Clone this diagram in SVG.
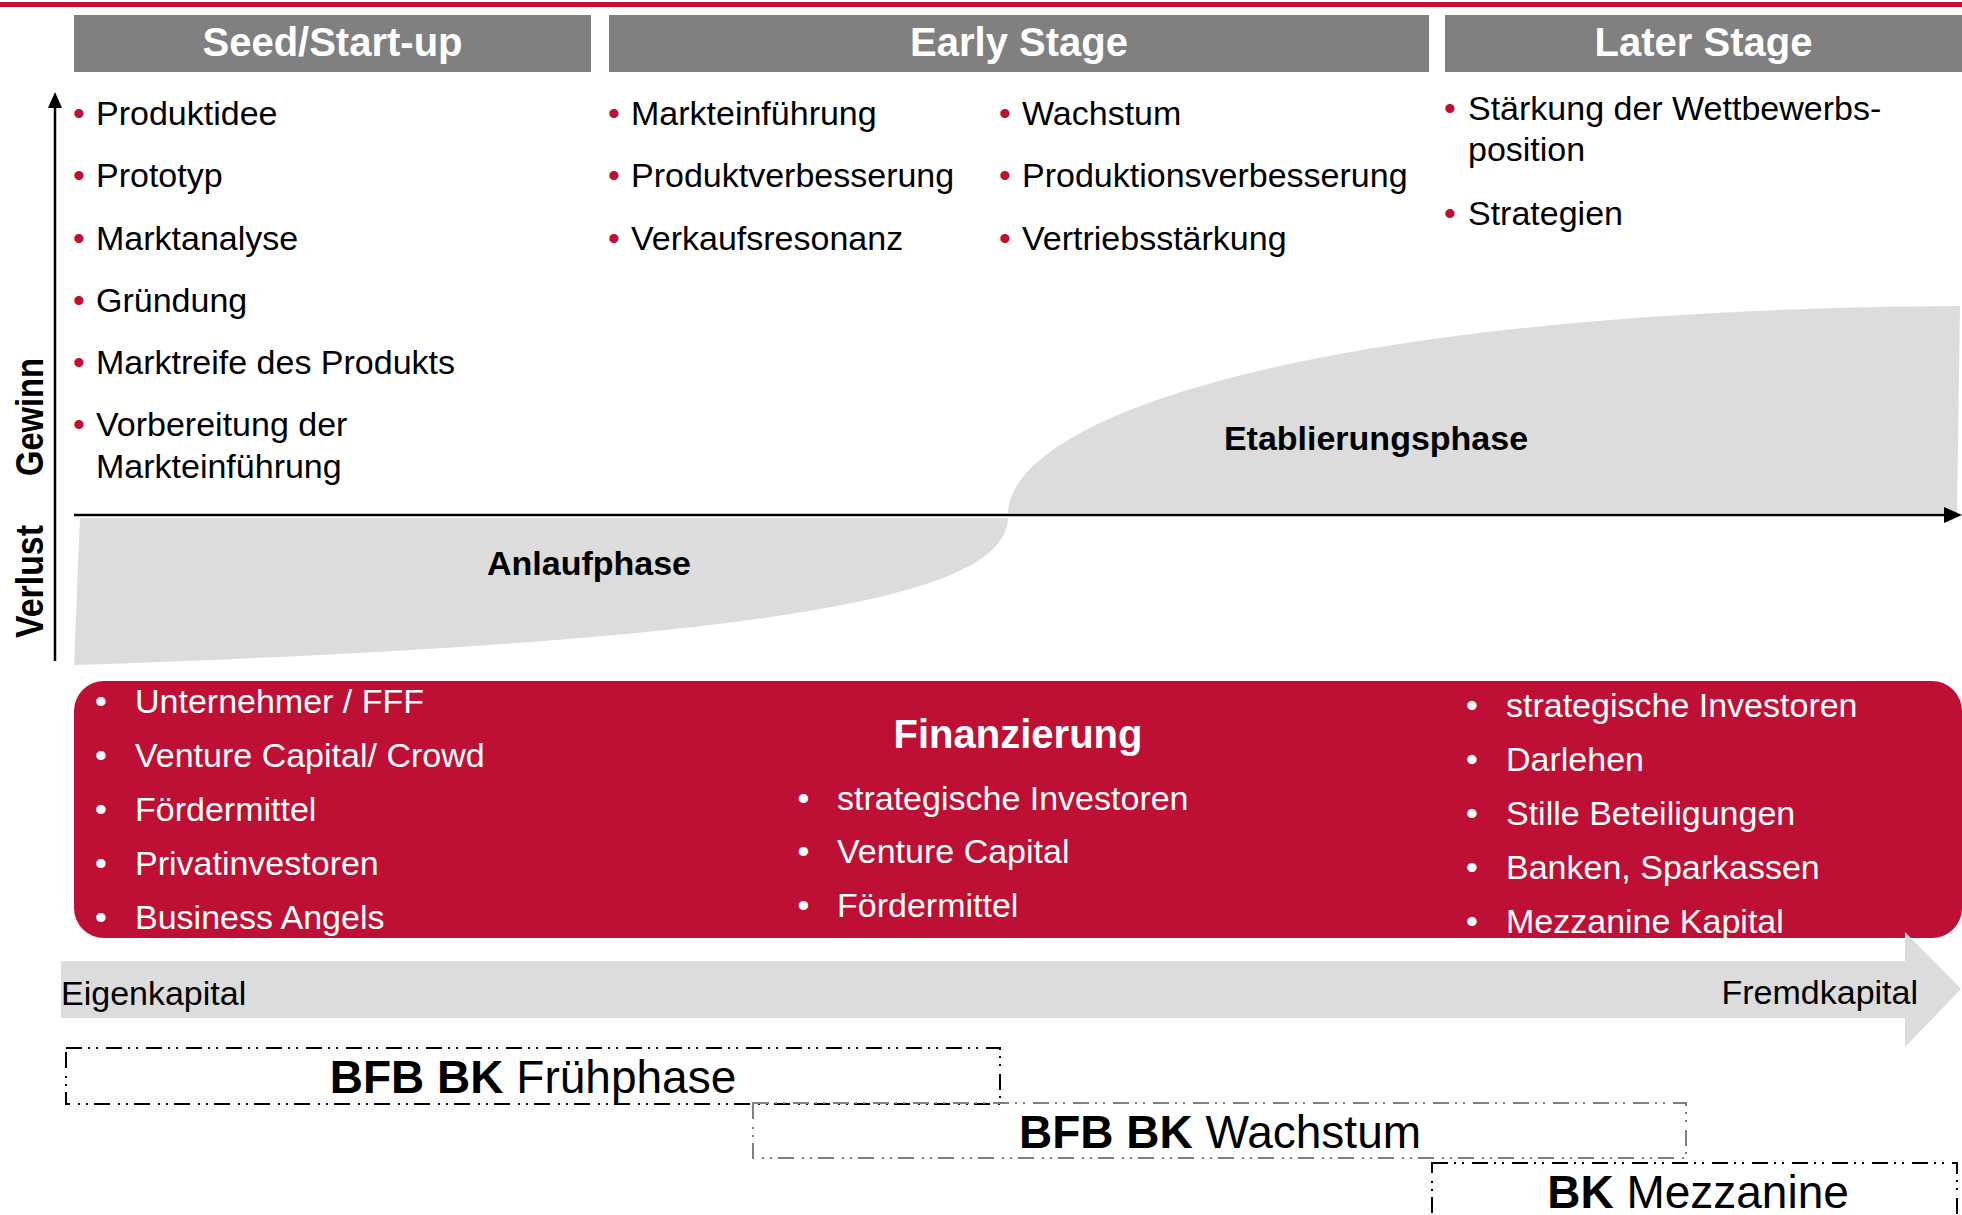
<svg xmlns="http://www.w3.org/2000/svg" width="1962" height="1215" viewBox="0 0 1962 1215">
<defs>
<style>
text{font-family:"Liberation Sans",Arial,sans-serif;}
.hdr{fill:#808080;}
.hdrt{fill:#fff;font-size:40px;font-weight:bold;text-anchor:middle;}
.item{font-size:34px;fill:#000;}
.rb{font-size:34px;fill:#BE1035;}
.wb{font-size:34px;fill:#fff;}
.wt{font-size:34px;fill:#fff;}
.phase{font-size:34px;font-weight:bold;fill:#000;text-anchor:middle;}
.axlbl{font-size:38px;font-weight:bold;fill:#000;text-anchor:middle;}
.shape{fill:#DCDCDC;}
.ax{stroke:#000;stroke-width:2.5;fill:none;}
.dash{fill:none;stroke-width:2;stroke-dasharray:16 6 2 6 2 8;}
.prog{font-size:46px;fill:#000;text-anchor:middle;}
.b{font-weight:bold;}
</style>
</defs>
<rect x="0" y="0" width="1962" height="1215" fill="#fff"/>
<rect id="topline" x="0" y="2" width="1962" height="5" fill="#BE1035"/>

<g id="hdr-seed"><rect class="hdr" x="74" y="15" width="517" height="57"/><text class="hdrt" x="332.5" y="56">Seed/Start-up</text></g>
<g id="hdr-early"><rect class="hdr" x="609" y="15" width="820" height="57"/><text class="hdrt" x="1019" y="56">Early Stage</text></g>
<g id="hdr-later"><rect class="hdr" x="1445" y="15" width="517" height="57"/><text class="hdrt" x="1703.5" y="56">Later Stage</text></g>

<g id="shape-anlauf"><path class="shape" d="M 80 518 L 1008 518 C 1005 590 820 640 74 665 Z"/><text class="phase" x="589" y="575">Anlaufphase</text></g>
<g id="shape-etablierung"><path class="shape" d="M 1008 513 C 1010 420 1300 310 1960 306 L 1957 513 Z"/><text class="phase" x="1376" y="450">Etablierungsphase</text></g>

<g id="connectors">
<line class="ax" x1="55" y1="661" x2="55" y2="106"/>
<polygon points="48,108 55,92 62,108" fill="#000"/>
<line class="ax" x1="74" y1="515" x2="1946" y2="515"/>
<polygon points="1944,507 1962,515 1944,523" fill="#000"/>
</g>

<g id="axis-labels">
<text class="axlbl" transform="translate(43,417) rotate(-90)" textLength="118" lengthAdjust="spacingAndGlyphs">Gewinn</text>
<text class="axlbl" transform="translate(43,581.5) rotate(-90)" textLength="113" lengthAdjust="spacingAndGlyphs">Verlust</text>
</g>

<g id="list-seed">
<text class="rb" x="73" y="125">•</text><text class="item" x="96" y="125">Produktidee</text>
<text class="rb" x="73" y="187">•</text><text class="item" x="96" y="187">Prototyp</text>
<text class="rb" x="73" y="250">•</text><text class="item" x="96" y="250">Marktanalyse</text>
<text class="rb" x="73" y="312">•</text><text class="item" x="96" y="312">Gründung</text>
<text class="rb" x="73" y="374">•</text><text class="item" x="96" y="374">Marktreife des Produkts</text>
<text class="rb" x="73" y="436">•</text><text class="item" x="96" y="436">Vorbereitung der</text>
<text class="item" x="96" y="478">Markteinführung</text>
</g>

<g id="list-early1">
<text class="rb" x="608" y="125">•</text><text class="item" x="631" y="125">Markteinführung</text>
<text class="rb" x="608" y="187">•</text><text class="item" x="631" y="187">Produktverbesserung</text>
<text class="rb" x="608" y="250">•</text><text class="item" x="631" y="250">Verkaufsresonanz</text>
</g>
<g id="list-early2">
<text class="rb" x="999" y="125">•</text><text class="item" x="1022" y="125">Wachstum</text>
<text class="rb" x="999" y="187">•</text><text class="item" x="1022" y="187">Produktionsverbesserung</text>
<text class="rb" x="999" y="250">•</text><text class="item" x="1022" y="250">Vertriebsstärkung</text>
</g>
<g id="list-later">
<text class="rb" x="1444" y="120">•</text><text class="item" x="1468" y="120">Stärkung der Wettbewerbs-</text>
<text class="item" x="1468" y="161">position</text>
<text class="rb" x="1444" y="225">•</text><text class="item" x="1468" y="225">Strategien</text>
</g>

<g id="finanzierung">
<rect x="74" y="681" width="1888" height="257" rx="30" ry="30" fill="#BE1035"/>
<text x="1018" y="748" fill="#fff" font-size="40" font-weight="bold" text-anchor="middle">Finanzierung</text>
<text class="wb" x="95" y="713">•</text><text class="wt" x="135" y="713">Unternehmer / FFF</text>
<text class="wb" x="95" y="767">•</text><text class="wt" x="135" y="767">Venture Capital/ Crowd</text>
<text class="wb" x="95" y="821">•</text><text class="wt" x="135" y="821">Fördermittel</text>
<text class="wb" x="95" y="875">•</text><text class="wt" x="135" y="875">Privatinvestoren</text>
<text class="wb" x="95" y="929">•</text><text class="wt" x="135" y="929">Business Angels</text>
<text class="wb" x="797.5" y="810">•</text><text class="wt" x="837" y="810">strategische Investoren</text>
<text class="wb" x="797.5" y="863">•</text><text class="wt" x="837" y="863">Venture Capital</text>
<text class="wb" x="797.5" y="917">•</text><text class="wt" x="837" y="917">Fördermittel</text>
<text class="wb" x="1466" y="717">•</text><text class="wt" x="1506" y="717">strategische Investoren</text>
<text class="wb" x="1466" y="771">•</text><text class="wt" x="1506" y="771">Darlehen</text>
<text class="wb" x="1466" y="825">•</text><text class="wt" x="1506" y="825">Stille Beteiligungen</text>
<text class="wb" x="1466" y="879">•</text><text class="wt" x="1506" y="879">Banken, Sparkassen</text>
<text class="wb" x="1466" y="933">•</text><text class="wt" x="1506" y="933">Mezzanine Kapital</text>
</g>

<g id="kapital-arrow">
<path class="shape" d="M 61 961 L 1905 961 L 1905 932 L 1961 989 L 1905 1047 L 1905 1018 L 61 1018 Z"/>
<text class="item" x="61" y="1005">Eigenkapital</text>
<text class="item" x="1918" y="1004" text-anchor="end">Fremdkapital</text>
</g>

<g id="box-fruehphase">
<rect class="dash" x="66" y="1048" width="934" height="56" stroke="#000"/>
<text class="prog" x="533" y="1093"><tspan class="b">BFB BK</tspan> Frühphase</text>
</g>
<g id="box-wachstum">
<rect class="dash" x="753" y="1103" width="933" height="55" stroke="#808080"/>
<text class="prog" x="1220" y="1148"><tspan class="b">BFB BK</tspan> Wachstum</text>
</g>
<g id="box-mezzanine">
<rect class="dash" x="1432" y="1163" width="525" height="60" stroke="#000"/>
<text class="prog" x="1698" y="1208"><tspan class="b">BK</tspan> Mezzanine</text>
</g>
</svg>
